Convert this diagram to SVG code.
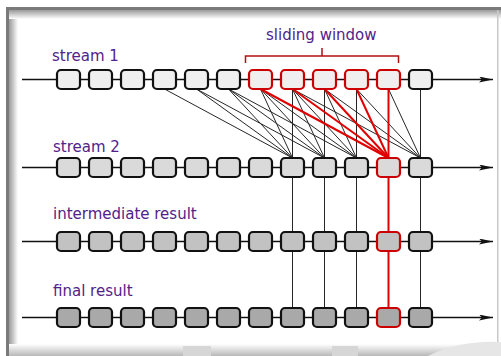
<svg xmlns="http://www.w3.org/2000/svg" width="501" height="356" viewBox="0 0 501 356">
<defs>
<linearGradient id="gl" x1="0" y1="0" x2="1" y2="0"><stop offset="0" stop-color="#9a9a9a"/><stop offset="1" stop-color="#ffffff"/></linearGradient>
<linearGradient id="gt" x1="0" y1="0" x2="0" y2="1"><stop offset="0" stop-color="#9a9a9a"/><stop offset="1" stop-color="#ffffff"/></linearGradient>
<linearGradient id="gb" x1="0" y1="0" x2="0" y2="1"><stop offset="0" stop-color="#ffffff"/><stop offset="1" stop-color="#b8b8b8"/></linearGradient>
<marker id="ah" viewBox="0 0 14 6" refX="14" refY="3" markerWidth="14" markerHeight="6" markerUnits="userSpaceOnUse" orient="auto"><path d="M0,0 L14,3 L0,6 L3,3 Z" fill="#111"/></marker>
<style>
.lbl{font-family:"DejaVu Sans",sans-serif;font-size:15px;fill:#52228a}
.axis{stroke:#111;stroke-width:1.3;fill:none}
.bx{stroke:#111;stroke-width:2.2}
.red{stroke:#cc0000}
.s1{fill:#efefef}
.s2{fill:#dadada}
.s3{fill:#c2c2c2}
.s4{fill:#a9a9a9}
.cb{stroke:#262626;stroke-width:1;fill:none}
.cr{stroke:#e00000;stroke-width:2;fill:none}
</style>
</defs>
<rect width="501" height="356" fill="#ffffff"/>
<g id="frame">
<rect x="9" y="10" width="9" height="346" fill="url(#gl)"/>
<rect x="9" y="10" width="492" height="9" fill="url(#gt)"/>
<rect x="6" y="7" width="3" height="349" fill="#7a7a7a"/>
<rect x="6" y="7" width="495" height="3" fill="#7a7a7a"/>
<rect x="9" y="344" width="492" height="12" fill="url(#gb)"/>
<rect x="497" y="10" width="1.5" height="346" fill="#c8c8c8"/>
<rect x="183" y="346" width="28" height="10" fill="#d6d6d6"/>
<rect x="332" y="346" width="26" height="10" fill="#d6d6d6"/>
<path d="M428,356 Q460,340 501,342 L501,356 Z" fill="#e6e6e6"/>
</g>
<g id="labels">
<text class="lbl" x="52" y="61">stream 1</text>
<text class="lbl" x="53" y="152">stream 2</text>
<text class="lbl" x="53" y="219">intermediate result</text>
<text class="lbl" x="53" y="296">final result</text>
<text class="lbl" x="266" y="40">sliding window</text>
</g>
<g id="bracket">
<path d="M245.5,63 V56 H398.5 V63 M322,56 V48" stroke="#b01010" stroke-width="1.5" fill="none"/>
</g>
<g id="connectors">
<line class="axis" x1="22" y1="79.5" x2="493" y2="79.5" marker-end="url(#ah)"/>
<line class="axis" x1="22" y1="167.5" x2="493" y2="167.5" marker-end="url(#ah)"/>
<line class="axis" x1="22" y1="241.5" x2="493" y2="241.5" marker-end="url(#ah)"/>
<line class="axis" x1="22" y1="317.5" x2="493" y2="317.5" marker-end="url(#ah)"/>
<line class="cb" x1="164.5" y1="89" x2="292.5" y2="158"/>
<line class="cb" x1="196.5" y1="89" x2="292.5" y2="158"/>
<line class="cb" x1="228.5" y1="89" x2="292.5" y2="158"/>
<line class="cb" x1="260.5" y1="89" x2="292.5" y2="158"/>
<line class="cb" x1="196.5" y1="89" x2="324.5" y2="158"/>
<line class="cb" x1="228.5" y1="89" x2="324.5" y2="158"/>
<line class="cb" x1="260.5" y1="89" x2="324.5" y2="158"/>
<line class="cb" x1="292.5" y1="89" x2="324.5" y2="158"/>
<line class="cb" x1="228.5" y1="89" x2="356.5" y2="158"/>
<line class="cb" x1="260.5" y1="89" x2="356.5" y2="158"/>
<line class="cb" x1="292.5" y1="89" x2="356.5" y2="158"/>
<line class="cb" x1="324.5" y1="89" x2="356.5" y2="158"/>
<line class="cb" x1="292.5" y1="89" x2="420.5" y2="158"/>
<line class="cb" x1="324.5" y1="89" x2="420.5" y2="158"/>
<line class="cb" x1="356.5" y1="89" x2="420.5" y2="158"/>
<line class="cb" x1="388.5" y1="89" x2="420.5" y2="158"/>
<line class="cb" x1="292.5" y1="89" x2="292.5" y2="308" stroke-width="1.2"/>
<line class="cb" x1="324.5" y1="89" x2="324.5" y2="308" stroke-width="1.2"/>
<line class="cb" x1="356.5" y1="89" x2="356.5" y2="308" stroke-width="1.2"/>
<line class="cb" x1="420.5" y1="89" x2="420.5" y2="308" stroke-width="1.2"/>
<line class="cr" x1="260.5" y1="89" x2="388.5" y2="158"/>
<line class="cr" x1="292.5" y1="89" x2="388.5" y2="158"/>
<line class="cr" x1="324.5" y1="89" x2="388.5" y2="158"/>
<line class="cr" x1="356.5" y1="89" x2="388.5" y2="158"/>
<line class="cr" x1="388.5" y1="89" x2="388.5" y2="308"/>
</g>
<g id="stream1">
<rect class="bx s1" x="57" y="70" width="23" height="19" rx="4"/>
<rect class="bx s1" x="89" y="70" width="23" height="19" rx="4"/>
<rect class="bx s1" x="121" y="70" width="23" height="19" rx="4"/>
<rect class="bx s1" x="153" y="70" width="23" height="19" rx="4"/>
<rect class="bx s1" x="185" y="70" width="23" height="19" rx="4"/>
<rect class="bx s1" x="217" y="70" width="23" height="19" rx="4"/>
<rect class="bx s1 red" x="249" y="70" width="23" height="19" rx="4"/>
<rect class="bx s1 red" x="281" y="70" width="23" height="19" rx="4"/>
<rect class="bx s1 red" x="313" y="70" width="23" height="19" rx="4"/>
<rect class="bx s1 red" x="345" y="70" width="23" height="19" rx="4"/>
<rect class="bx s1 red" x="377" y="70" width="23" height="19" rx="4"/>
<rect class="bx s1" x="409" y="70" width="23" height="19" rx="4"/>
</g>
<g id="stream2">
<rect class="bx s2" x="57" y="158" width="23" height="19" rx="4"/>
<rect class="bx s2" x="89" y="158" width="23" height="19" rx="4"/>
<rect class="bx s2" x="121" y="158" width="23" height="19" rx="4"/>
<rect class="bx s2" x="153" y="158" width="23" height="19" rx="4"/>
<rect class="bx s2" x="185" y="158" width="23" height="19" rx="4"/>
<rect class="bx s2" x="217" y="158" width="23" height="19" rx="4"/>
<rect class="bx s2" x="249" y="158" width="23" height="19" rx="4"/>
<rect class="bx s2" x="281" y="158" width="23" height="19" rx="4"/>
<rect class="bx s2" x="313" y="158" width="23" height="19" rx="4"/>
<rect class="bx s2" x="345" y="158" width="23" height="19" rx="4"/>
<rect class="bx s2 red" x="377" y="158" width="23" height="19" rx="4"/>
<rect class="bx s2" x="409" y="158" width="23" height="19" rx="4"/>
</g>
<g id="intermediate">
<rect class="bx s3" x="57" y="232" width="23" height="19" rx="4"/>
<rect class="bx s3" x="89" y="232" width="23" height="19" rx="4"/>
<rect class="bx s3" x="121" y="232" width="23" height="19" rx="4"/>
<rect class="bx s3" x="153" y="232" width="23" height="19" rx="4"/>
<rect class="bx s3" x="185" y="232" width="23" height="19" rx="4"/>
<rect class="bx s3" x="217" y="232" width="23" height="19" rx="4"/>
<rect class="bx s3" x="249" y="232" width="23" height="19" rx="4"/>
<rect class="bx s3" x="281" y="232" width="23" height="19" rx="4"/>
<rect class="bx s3" x="313" y="232" width="23" height="19" rx="4"/>
<rect class="bx s3" x="345" y="232" width="23" height="19" rx="4"/>
<rect class="bx s3 red" x="377" y="232" width="23" height="19" rx="4"/>
<rect class="bx s3" x="409" y="232" width="23" height="19" rx="4"/>
</g>
<g id="final">
<rect class="bx s4" x="57" y="308" width="23" height="19" rx="4"/>
<rect class="bx s4" x="89" y="308" width="23" height="19" rx="4"/>
<rect class="bx s4" x="121" y="308" width="23" height="19" rx="4"/>
<rect class="bx s4" x="153" y="308" width="23" height="19" rx="4"/>
<rect class="bx s4" x="185" y="308" width="23" height="19" rx="4"/>
<rect class="bx s4" x="217" y="308" width="23" height="19" rx="4"/>
<rect class="bx s4" x="249" y="308" width="23" height="19" rx="4"/>
<rect class="bx s4" x="281" y="308" width="23" height="19" rx="4"/>
<rect class="bx s4" x="313" y="308" width="23" height="19" rx="4"/>
<rect class="bx s4" x="345" y="308" width="23" height="19" rx="4"/>
<rect class="bx s4 red" x="377" y="308" width="23" height="19" rx="4"/>
<rect class="bx s4" x="409" y="308" width="23" height="19" rx="4"/>
</g>
</svg>
